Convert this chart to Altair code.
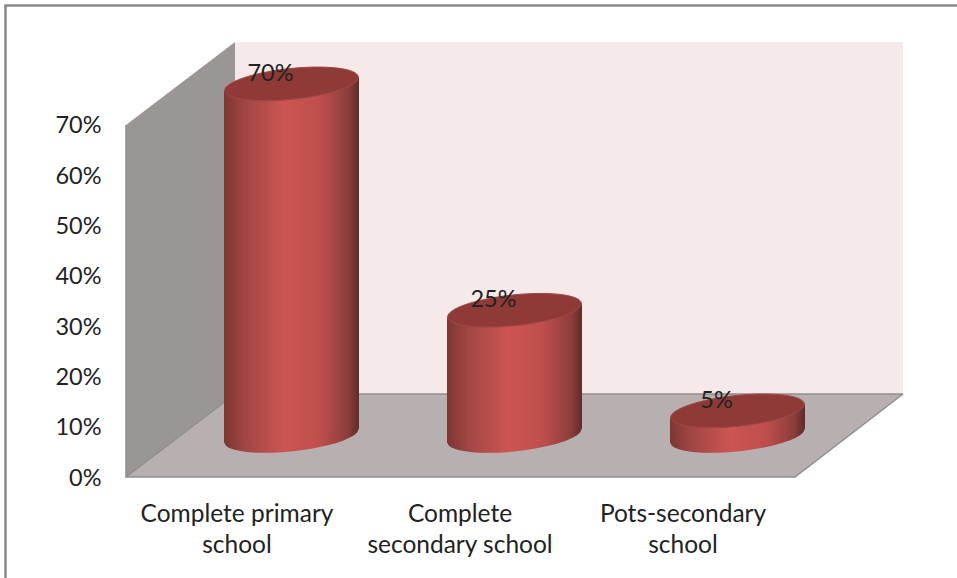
import altair as alt
import pandas as pd

# Chart values
categories = ["Complete primary school", "Complete secondary school", "Pots-secondary school"]
shares = [70, 25, 5]
y_ticks = [0, 10, 20, 30, 40, 50, 60, 70]

# Pixel layout of the plot area and the 3D box
LEFT, TOP, RIGHT, BOTTOM = 126, 42, 903, 477
PX_PER_PCT = 5.03
PX_PER_CAT = 223.0
FIRST_CAT_PX = 291.5
DEPTH_X, DEPTH_Y = 109, 83
FLOOR_FRONT_RIGHT = 795
BASE_PX = 436
CYL_WIDTH = 135
CYL_TILT_PX = 7

def ux(px):
    """Pixel column to category units."""
    return (px - FIRST_CAT_PX) / PX_PER_CAT

def uy(px):
    """Pixel row to percentage units."""
    return (BOTTOM - px) / PX_PER_PCT

x_scale = alt.Scale(domain=[ux(LEFT), ux(RIGHT)], nice=False, zero=False)
y_scale = alt.Scale(domain=[0, uy(TOP)], nice=False, zero=False)

# Every layer carries the same axis definitions so they merge into one pair.
# Category labels sit on the front edge of the floor, left of the cylinders.
x_axis = alt.Axis(
    values=[0, 1, 2], domain=False, ticks=False, grid=False, title=None,
    labelExpr="[['Complete primary', 'school'], ['Complete', 'secondary school'], ['Pots-secondary', 'school']][datum.value]",
    labelFont="Lato", labelFontSize=24.5, labelColor="#222222", labelPadding=25, labelOffset=-55,
    labelLineHeight=31, labelBaseline="top", labelFlush=False, labelOverlap=False, labelAngle=0,
    labelLimit=300)
y_axis = alt.Axis(
    values=y_ticks, labelExpr="datum.value + '%'", domain=False, ticks=False, grid=False, title=None,
    labelFont="Lato", labelFontSize=23.5, labelColor="#222222", labelPadding=25, labelOffset=1,
    labelOverlap=False)

def X(field="x"):
    return alt.X(f"{field}:Q", scale=x_scale, axis=x_axis)

def Y(field="y"):
    return alt.Y(f"{field}:Q", scale=y_scale, axis=y_axis)

def panel(rows, fill):
    """One flat face of the box, drawn as an area between two edges."""
    return alt.Chart(pd.DataFrame(rows, columns=["x", "y", "y2"])).mark_area(
        fill=fill, interpolate="linear"
    ).encode(x=X(), y=Y(), y2="y2:Q")

back_wall = alt.Chart(pd.DataFrame({"x": [ux(LEFT + DEPTH_X)], "x2": [ux(RIGHT)],
                                    "y": [uy(TOP)], "y2": [uy(BOTTOM - DEPTH_Y)]})).mark_rect(
    fill="#f5e9e9").encode(x=X(), x2="x2:Q", y=Y(), y2="y2:Q")
left_wall = panel(
    [[ux(LEFT), uy(TOP + DEPTH_Y), uy(BOTTOM)],
     [ux(LEFT + DEPTH_X), uy(TOP), uy(BOTTOM - DEPTH_Y)]],
    "#9b9696")
floor_shape = panel(
    [[ux(LEFT), uy(BOTTOM), uy(BOTTOM)],
     [ux(LEFT + DEPTH_X), uy(BOTTOM - DEPTH_Y), uy(BOTTOM)],
     [ux(FLOOR_FRONT_RIGHT), uy(BOTTOM - DEPTH_Y), uy(BOTTOM)],
     [ux(RIGHT), uy(BOTTOM - DEPTH_Y), uy(BOTTOM - DEPTH_Y)]],
    "#b8b0b0")

def edge(points, color="#8e8e8e", width=1.5):
    return alt.Chart(pd.DataFrame(points, columns=["x", "y"])).mark_line(
        color=color, strokeWidth=width, clip=False).encode(x=X(), y=Y())

box_edges = [
    edge([[ux(LEFT), uy(TOP + DEPTH_Y)], [ux(LEFT), uy(BOTTOM)], [ux(FLOOR_FRONT_RIGHT), uy(BOTTOM)],
          [ux(RIGHT), uy(BOTTOM - DEPTH_Y)]]),
    edge([[ux(LEFT + DEPTH_X), uy(BOTTOM - DEPTH_Y)], [ux(RIGHT), uy(BOTTOM - DEPTH_Y)]]),
    edge([[ux(LEFT), uy(BOTTOM)], [ux(LEFT + DEPTH_X), uy(BOTTOM - DEPTH_Y)]]),
]

# Page border: only the top and left sides are ruled
frame = edge([[ux(5.5), uy(590)], [ux(5.5), uy(5.5)], [ux(960), uy(5.5)]], color="#8a8a8a", width=2.5)

# Cylinders: a shaded body, a rounded foot and a dark lid
cyl = pd.DataFrame({"category": categories, "share": shares})
cyl["pos"] = range(len(cyl))
cyl["y_base"] = uy(BASE_PX)
cyl["y_top"] = cyl["y_base"] + cyl["share"]

half_w = CYL_WIDTH / 2 / PX_PER_CAT
tilt = CYL_TILT_PX / PX_PER_PCT
body_rows = []
for row in cyl.itertuples():
    # The body's top and bottom edges follow the tilt of the ellipses
    body_rows.append({"pos": row.pos, "x": row.pos - half_w,
                      "y": row.y_top - tilt, "y2": row.y_base - tilt})
    body_rows.append({"pos": row.pos, "x": row.pos + half_w,
                      "y": row.y_top + tilt, "y2": row.y_base + tilt})
body_df = pd.DataFrame(body_rows)

shade = alt.Gradient(
    gradient="linear", x1=0, x2=1, y1=0, y2=0,
    stops=[
        alt.GradientStop(offset=0.0, color="#7c3634"),
        alt.GradientStop(offset=0.15, color="#a04643"),
        alt.GradientStop(offset=0.45, color="#cd5553"),
        alt.GradientStop(offset=0.72, color="#bd4e4c"),
        alt.GradientStop(offset=0.92, color="#8c3d3b"),
        alt.GradientStop(offset=1.0, color="#5f2c2b"),
    ],
)
ELLIPSE = "M-0.99,0.104A0.995,0.228,-6,1,1,0.99,-0.104A0.995,0.228,-6,1,1,-0.99,0.104Z"

foot = alt.Chart(cyl).mark_point(shape=ELLIPSE, size=CYL_WIDTH ** 2, filled=True, fill=shade, opacity=1).encode(
    x=X("pos"), y=Y("y_base"))
body = alt.Chart(body_df).mark_area(fill=shade, interpolate="linear").encode(
    x=X(), y=Y(), y2="y2:Q", detail="pos:N")
lid = alt.Chart(cyl).mark_point(shape=ELLIPSE, size=CYL_WIDTH ** 2, filled=True, fill="#8f3a37", opacity=1,
                                stroke="#9d4a47", strokeWidth=1).encode(
    x=X("pos"), y=Y("y_top"))

value_labels = alt.Chart(cyl).transform_calculate(label="datum.share + '%'").mark_text(
    font="Lato", fontSize=23.5, color="#222222", dx=-21, dy=-10
).encode(x=X("pos"), y=Y("y_top"), text="label:N")

chart = alt.layer(frame, back_wall, left_wall, floor_shape, *box_edges, foot, body, lid,
                  value_labels).properties(
    width=RIGHT - LEFT, height=BOTTOM - TOP,
    padding={"left": LEFT, "top": TOP, "right": 957 - RIGHT, "bottom": 578 - BOTTOM},
    autosize=alt.AutoSizeParams(type="none"), background="#ffffff",
).configure_view(stroke=None)

chart.save("out.html", embed_options={"renderer": "svg", "actions": False})
